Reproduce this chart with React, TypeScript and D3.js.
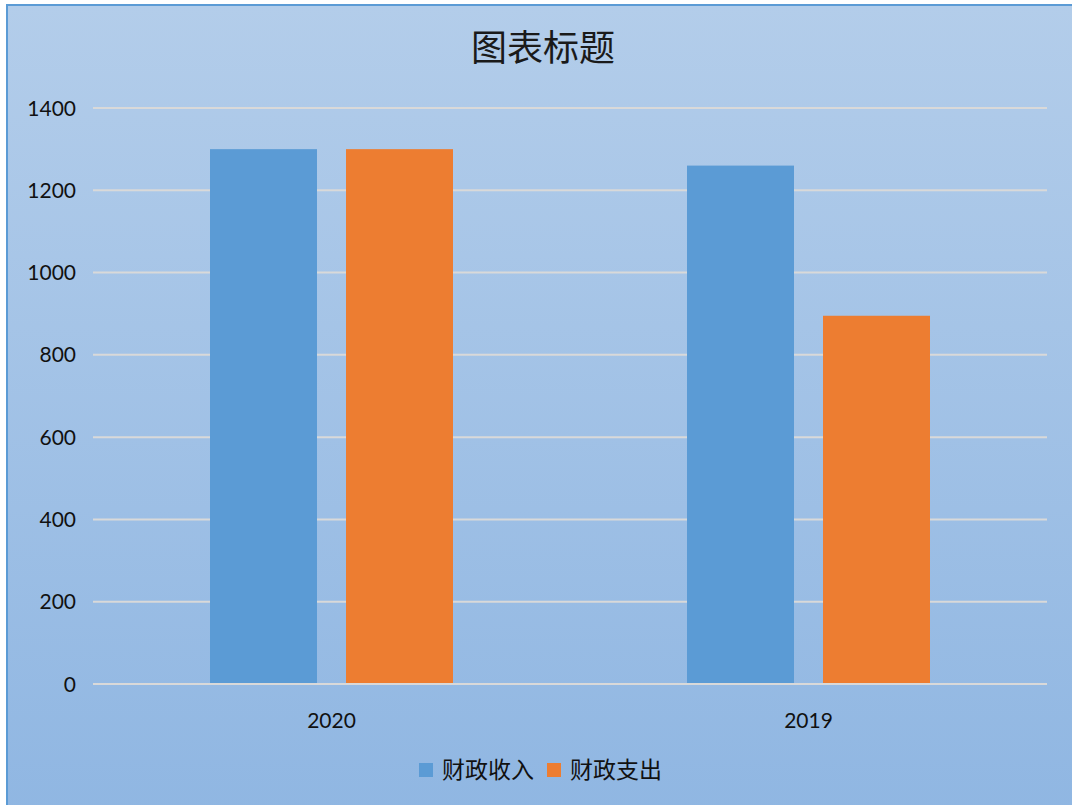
import React from "react";
import * as d3 from "d3";

const categories = ["2020", "2019"];
const seriesNames = ["财政收入", "财政支出"];
const income = [1300, 1260];
const expense = [1300, 895];
const yTicks = [0, 200, 400, 600, 800, 1000, 1200, 1400];
const colors = ["#5b9bd5", "#ed7d31"];

export default function App() {
  const W = 1072, H = 805;
  const plot = { left: 93, right: 1047, top: 108, bottom: 684 };
  const y = d3.scaleLinear().domain([0, 1400]).range([plot.bottom, plot.top]);
  const x0 = d3.scaleBand().domain(categories).range([plot.left, plot.right]).paddingInner(0).paddingOuter(0);
  const bw = 107, gap = 29;
  const series = [income, expense];
  const fontNum = "Lato, 'Open Sans', sans-serif";
  const fontCJK = "'Noto Sans CJK SC', sans-serif";
  return (
    <svg width={W} height={H} style={{ position: "absolute", left: 0, top: 0 }}>
      <defs>
        <linearGradient id="bg" x1="0" y1="0" x2="0" y2="1">
          <stop offset="0" stopColor="#b3cdea" />
          <stop offset="1" stopColor="#8fb6e2" />
        </linearGradient>
      </defs>
      <rect x={0} y={0} width={W} height={H} fill="#fff" />
      <rect x={7} y={5} width={W + 20} height={H + 20} fill="url(#bg)" stroke="#5b9bd5" strokeWidth={2} />
      <text x={543} y={61} textAnchor="middle" fontFamily={fontCJK} fontSize={36} fill="#1a1a1a">图表标题</text>
      {yTicks.map((t) => (
        <g key={t}>
          <line x1={plot.left} x2={plot.right} y1={y(t)} y2={y(t)} stroke="#d9d9d9" strokeWidth={2} />
          <text x={76} y={y(t)} dy="0.36em" textAnchor="end" fontFamily={fontNum} fontSize={21} fill="#111">{t}</text>
        </g>
      ))}
      {categories.map((c, i) => {
        const cx = (x0(c) as number) + x0.bandwidth() / 2;
        const total = bw * 2 + gap;
        return (
          <g key={c}>
            {series.map((s, j) => {
              const bx = cx - total / 2 + j * (bw + gap);
              return <rect key={j} x={bx} y={y(s[i])} width={bw} height={plot.bottom - y(s[i])} fill={colors[j]} />;
            })}
            <text x={cx} y={728} textAnchor="middle" fontFamily={fontNum} fontSize={21} fill="#111">{c}</text>
          </g>
        );
      })}
      <line x1={plot.left} x2={plot.right} y1={plot.bottom} y2={plot.bottom} stroke="#d9d9d9" strokeWidth={2} />
      {seriesNames.map((n, j) => {
        const lx = [419, 547][j];
        return (
          <g key={n}>
            <rect x={lx} y={763} width={14} height={14} fill={colors[j]} />
            <text x={lx + 23} y={770} dy="0.36em" fontFamily={fontCJK} fontSize={23} fill="#111">{n}</text>
          </g>
        );
      })}
    </svg>
  );
}
